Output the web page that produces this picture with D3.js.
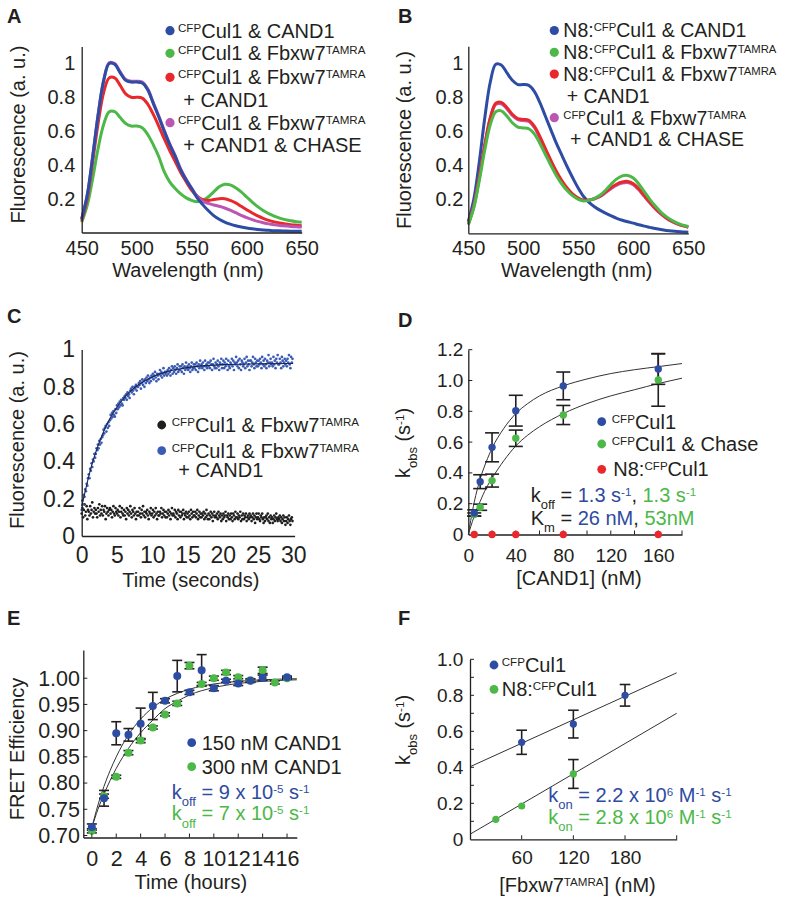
<!DOCTYPE html>
<html><head><meta charset="utf-8">
<script src="https://cdn.jsdelivr.net/npm/d3@7"></script>
<style>
body{margin:0;background:#fff}
svg{display:block}
text{font-family:"Liberation Sans",Arial,Helvetica,sans-serif;fill:#231f20;white-space:pre}
</style></head>
<body><svg id="fig" width="800" height="904"></svg>
<script>
// ---------------- DATA ----------------
const wavelength = [450,455,460,465,470,475,480,485,490,495,500,505,510,515,520,525,530,535,540,545,550,555,560,565,570,575,580,585,590,595,600,605,610,615,620,625,630,635,640,645,650];
// Panel A spectra
const aBlue  = [0.08,0.22,0.45,0.70,0.90,1.0,0.995,0.945,0.90,0.89,0.89,0.885,0.845,0.765,0.685,0.60,0.52,0.45,0.37,0.31,0.26,0.205,0.165,0.13,0.10,0.078,0.062,0.05,0.04,0.033,0.027,0.022,0.018,0.015,0.013,0.011,0.01,0.009,0.008,0.008,0.007];
const aGreen = [0.06,0.16,0.32,0.50,0.64,0.715,0.715,0.68,0.645,0.63,0.63,0.62,0.58,0.52,0.45,0.36,0.30,0.26,0.228,0.205,0.19,0.182,0.19,0.21,0.24,0.27,0.285,0.282,0.265,0.24,0.21,0.18,0.153,0.13,0.112,0.097,0.085,0.076,0.069,0.064,0.06];
const aRed   = [0.07,0.2,0.42,0.65,0.83,0.915,0.915,0.87,0.82,0.80,0.80,0.795,0.76,0.70,0.63,0.555,0.485,0.42,0.355,0.30,0.25,0.215,0.195,0.19,0.195,0.2,0.2,0.19,0.175,0.155,0.135,0.115,0.098,0.084,0.072,0.063,0.056,0.05,0.046,0.043,0.04];
const aPink  = [0.08,0.22,0.45,0.70,0.90,1.005,1.0,0.95,0.905,0.895,0.895,0.89,0.85,0.77,0.69,0.605,0.525,0.455,0.375,0.315,0.262,0.215,0.185,0.172,0.163,0.155,0.145,0.132,0.117,0.102,0.088,0.076,0.066,0.058,0.051,0.046,0.042,0.039,0.036,0.034,0.032];
// Panel B spectra
const bBlue  = [0.07,0.2,0.42,0.68,0.89,0.995,0.99,0.945,0.90,0.875,0.875,0.87,0.835,0.77,0.69,0.61,0.53,0.46,0.39,0.325,0.265,0.215,0.18,0.155,0.135,0.118,0.102,0.088,0.077,0.068,0.06,0.05,0.042,0.035,0.028,0.022,0.017,0.013,0.01,0.008,0.006];
const bGreen = [0.05,0.15,0.31,0.49,0.64,0.715,0.72,0.69,0.65,0.625,0.62,0.615,0.585,0.53,0.465,0.40,0.34,0.29,0.25,0.22,0.2,0.19,0.195,0.205,0.225,0.255,0.29,0.32,0.338,0.34,0.325,0.29,0.245,0.2,0.16,0.125,0.098,0.077,0.06,0.048,0.04];
const bRed   = [0.055,0.16,0.33,0.52,0.68,0.765,0.77,0.74,0.70,0.675,0.67,0.665,0.63,0.57,0.50,0.43,0.365,0.31,0.265,0.23,0.207,0.194,0.196,0.205,0.22,0.245,0.27,0.29,0.302,0.305,0.292,0.262,0.222,0.183,0.147,0.116,0.091,0.071,0.056,0.045,0.037];
const bPink  = [0.055,0.16,0.33,0.52,0.675,0.758,0.762,0.733,0.693,0.668,0.663,0.658,0.623,0.563,0.494,0.425,0.36,0.306,0.262,0.228,0.205,0.193,0.195,0.203,0.217,0.24,0.264,0.284,0.295,0.298,0.285,0.256,0.217,0.179,0.144,0.114,0.089,0.07,0.055,0.044,0.036];
const spectraTicksX = [450,500,550,600,650];
const spectraTicksY = [0.2,0.4,0.6,0.8,1];
const spectraTickLabelsY = ["0.2","0.4","0.6","0.8","1"];

// Panel C: traces sampled every 0.1 s (values in hundredths)
const cSampleStep = 0.1;
const cBlueTrace = [
14,19,17,22,21,25,24,28,27,31, 33,31,36,35,39,37,41,40,44,42, 44,47,46,49,47,51,49,52,50,53,
54,57,55,58,59,56,60,58,61,59, 62,65,63,66,64,67,65,64,68,66, 70,68,71,69,72,70,73,71,70,74,
73,75,74,76,73,77,75,76,74,78, 79,77,80,78,76,80,79,81,78,80, 80,82,81,83,79,82,84,81,83,80,
84,82,85,83,86,84,82,85,83,86, 85,87,84,86,88,85,83,87,86,84, 87,89,86,88,85,87,90,86,88,87,
88,86,89,87,90,88,86,89,91,87, 90,88,91,89,87,90,92,88,89,91, 89,91,88,92,90,87,91,89,93,90,
91,89,92,90,88,91,93,89,90,92, 90,92,89,93,91,88,92,90,94,91, 92,90,93,91,89,94,91,92,90,93,
91,93,90,94,92,89,92,95,91,90, 93,90,92,94,91,89,93,92,95,90, 92,94,90,93,91,95,92,89,94,91,
90,93,92,95,91,94,89,93,92,96, 93,91,94,90,95,92,89,94,93,91, 92,95,90,93,96,91,94,92,89,94,
94,91,93,96,92,90,95,93,91,94, 91,94,92,95,93,90,96,92,94,91, 95,92,90,94,93,97,91,93,95,92,
93,91,96,92,94,90,95,93,97,92, 92,95,93,90,96,94,91,93,95,92, 94,91,95,93,97,92,90,96,93,95];
const cBlackTrace = [
12,15,10,14,17,11,13,16,9,14, 13,11,16,12,14,18,10,13,15,12, 14,12,10,15,13,17,11,14,12,16,
11,14,13,16,9,12,15,13,11,14, 15,12,14,10,13,16,12,11,15,13, 12,14,11,13,16,10,13,15,12,11,
14,11,13,9,15,12,14,11,13,16, 12,10,14,13,11,15,12,9,13,11, 13,11,15,12,10,14,12,16,11,13,
10,13,12,14,11,9,13,12,15,11, 12,14,10,13,11,15,12,9,13,11, 11,13,12,15,10,12,14,11,13,10,
13,10,12,14,11,13,9,12,15,11, 12,11,14,10,13,12,9,14,11,13, 10,13,11,12,14,9,12,11,13,10,
12,10,13,11,9,14,12,10,13,11, 11,13,10,12,14,9,11,13,10,12, 10,12,11,13,9,12,10,14,11,9,
12,9,11,13,10,12,8,11,13,10, 11,10,12,9,13,11,10,12,8,11, 9,12,10,11,13,8,11,10,12,9,
11,9,12,10,8,12,11,9,13,10, 10,12,9,11,10,13,8,11,9,12, 9,11,10,12,8,10,11,9,12,10,
11,8,10,12,9,11,7,10,12,9, 10,12,9,8,11,10,12,9,7,10, 8,10,11,9,12,8,10,7,11,9,
10,7,9,11,8,10,12,9,8,10, 9,11,8,10,7,9,11,8,10,6, 8,10,7,9,11,8,6,9,10,8];
const cFitTime = [0,0.5,1,1.5,2,3,4,5,6,7,8,10,12,14,16,18,20,25,30];
const cFitValue = [0.16,0.24,0.32,0.39,0.45,0.55,0.63,0.69,0.74,0.78,0.81,0.853,0.88,0.897,0.908,0.915,0.919,0.923,0.925];
const cTicksX = [0,5,10,15,20,25,30];
const cTicksY = [0,0.2,0.4,0.6,0.8,1];
const cTickLabelsY = ["0","0.2","0.4","0.6","0.8","1"];

// Panel D
const dConc = [5,10,20,40,80,160];
const dBlue = [0.14,0.343,0.566,0.804,0.965,1.075];
const dBlueErr = [0.02,0.045,0.094,0.1,0.09,0.1];
const dGreen = [0.13,0.177,0.35,0.625,0.776,1.003];
const dGreenErr = [0.01,0.02,0.042,0.053,0.062,0.17];
const dRedConc = [5,20,40,80,160];
const dRed = [0,0,0,0,0];
const dFitConc = [0,2,5,10,15,20,30,40,50,60,80,100,120,140,160,180];
const dFitBlue = [0,0.09,0.21,0.36,0.47,0.56,0.69,0.785,0.85,0.9,0.965,1.01,1.045,1.07,1.09,1.11];
const dFitGreen = [0,0.05,0.12,0.215,0.3,0.365,0.48,0.575,0.645,0.7,0.785,0.85,0.9,0.94,0.98,1.015];
const dTicksX = [0,40,80,120,160];
const dMarksX = [20,40,60,80,100,120,140,160,180];
const dTicksY = [0,0.2,0.4,0.6,0.8,1.0,1.2];
const dTickLabelsY = ["0","0.2","0.4","0.6","0.8","1.0","1.2"];

// Panel E
const eBlueHours = [0,1,2,3,4,5,6,7,8,9,10,11,12,13,14,16];
const eBlue = [0.716,0.771,0.895,0.892,0.913,0.947,0.957,1.004,0.973,1.015,0.981,0.995,0.99,0.995,1.001,1.002];
const eBlueErr = [0.006,0.015,0.022,0.012,0.03,0.026,0.004,0.03,0.004,0.03,0.005,0.003,0.004,0.003,0.005,0.002];
const eGreenHours = [0,1,2,3,4,5,6,7,8,9,10,11,12,13,14,15,16];
const eGreen = [0.709,0.775,0.812,0.858,0.881,0.906,0.931,0.952,1.024,0.989,1.0,1.011,1.002,0.996,1.015,0.992,1.0];
const eGreenErr = [0.004,0.004,0.003,0.004,0.004,0.003,0.003,0.004,0.006,0.003,0.004,0.004,0.003,0.003,0.006,0.003,0.002];
const eFitHours = [0,0.5,1,1.5,2,3,4,5,6,7,8,10,12,14,16.8];
const eFitBlue = [0.715,0.758,0.794,0.824,0.85,0.892,0.922,0.944,0.96,0.971,0.979,0.989,0.994,0.997,0.999];
const eFitGreen = [0.715,0.75,0.779,0.805,0.828,0.866,0.896,0.92,0.942,0.956,0.968,0.982,0.99,0.994,0.997];
const eTicksX = [0,2,4,6,8,10,12,14,16];
const eTicksY = [0.70,0.75,0.80,0.85,0.90,0.95,1.00];
const eTickLabelsY = ["0.70","0.75","0.80","0.85","0.90","0.95","1.00"];

// Panel F
const fBlueConc = [60,120,180];
const fBlue = [0.539,0.64,0.80];
const fBlueErr = [0.067,0.077,0.06];
const fGreenConc = [30,60,120];
const fGreen = [0.111,0.185,0.363];
const fGreenErr = [0.005,0.005,0.08];
const fFitConc = [0,240];
const fFitBlue = [0.403,0.925];
const fFitGreen = [0.028,0.70];
const fTicksX = [60,120,180];
const fMarksX = [60,120,180,240];
const fTicksY = [0,0.2,0.4,0.6,0.8,1.0];
const fMarksY = [0.1,0.2,0.3,0.4,0.5,0.6,0.7,0.8,0.9,1.0];
const fTickLabelsY = ["0","0.2","0.4","0.6","0.8","1.0"];

// ---------------- STYLE ----------------
const INK = "#231f20";
const BLUE = "#2d4ca3", GREEN = "#4cb848", RED = "#e8282b", PINK = "#bb57b3";
const BLUE_TXT = "#2e4ba0", GREEN_TXT = "#4cb848";
const SCAT_BLUE = "#3a5cb6";

const svg = d3.select("#fig");
svg.append("rect").attr("width",800).attr("height",904).attr("fill","#fff");

function rich(g, x, y, parts, size, opts={}) {
  const t = g.append("text").attr("x", x).attr("y", y).style("font-size", size + "px");
  if (opts.anchor) t.attr("text-anchor", opts.anchor);
  if (opts.transform) t.attr("transform", opts.transform);
  let shift = 0;
  parts.forEach(p => {
    const [txt, mode, color] = p;
    let target = 0, fs = size;
    if (mode === "sup") { target = -0.3 * size; fs = size * 0.58; }
    else if (mode === "sub") { target = 0.36 * size; fs = size * 0.65; }
    const ts = t.append("tspan").attr("dy", (target - shift).toFixed(2)).style("font-size", fs + "px").text(txt);
    if (color) ts.style("fill", color);
    shift = target;
  });
  return t;
}

function axes(x, y, o) {
  const g = svg.append("g");
  const fs = o.fs || 20;
  const ax = d3.axisBottom(x).tickValues(o.xTicks).tickFormat((d,i) => o.xLabels ? o.xLabels[i] : d)
      .tickSize(0).tickPadding(o.xPad);
  const ay = d3.axisLeft(y).tickValues(o.yTicks).tickFormat((d,i) => o.yLabels[i])
      .tickSize(0).tickPadding(o.yPad);
  const gx = g.append("g").attr("transform", `translate(0,${y.range()[0]})`).call(ax);
  const gy = g.append("g").attr("transform", `translate(${x.range()[0]},0)`).call(ay);
  [gx, gy].forEach(s => {
    s.selectAll("path.domain").attr("stroke", INK).attr("stroke-width", 1.3);
    s.selectAll("text").attr("font-family", null).attr("font-size", null)
      .style("font-size", fs + "px").style("fill", INK);
    s.attr("font-family", null).attr("font-size", null);
  });
  const x0 = x.range()[0], y0 = y.range()[0];
  (o.xMarks || []).forEach(v => g.append("line").attr("x1", x(v)).attr("x2", x(v))
      .attr("y1", y0).attr("y2", y0 - 4).attr("stroke", INK).attr("stroke-width", 1));
  (o.yMarks || []).forEach(v => g.append("line").attr("x1", x0).attr("x2", x0 + 4)
      .attr("y1", y(v)).attr("y2", y(v)).attr("stroke", INK).attr("stroke-width", 1));
  return g;
}

function panelLetter(ch, x, y) {
  svg.append("text").attr("x", x).attr("y", y).style("font-size", "20px")
    .style("font-weight", "bold").text(ch);
}
function dot(g, x, y, color, r) {
  g.append("circle").attr("cx", x).attr("cy", y).attr("r", r).attr("fill", color);
}
function errBars(g, x, y, xs, ys, es, cap) {
  xs.forEach((xv, i) => {
    const yt = y(ys[i] + es[i]), yb = y(ys[i] - es[i]), px = x(xv);
    g.append("line").attr("x1", px).attr("x2", px).attr("y1", yt).attr("y2", yb)
      .attr("stroke", INK).attr("stroke-width", 1.6);
    [yt, yb].forEach(yy => g.append("line").attr("x1", px - cap).attr("x2", px + cap)
      .attr("y1", yy).attr("y2", yy).attr("stroke", INK).attr("stroke-width", 1.6));
  });
}

const smooth = d3.curveCatmullRom.alpha(0.5);

// ---------------- PANEL A ----------------
{
  const x = d3.scaleLinear().domain([450,650]).range([81.7,301.7]);
  const y = d3.scaleLinear().domain([0,1.1]).range([232.5,46.6]);
  const g = svg.append("g");
  const ln = d3.line().x((d,i) => x(wavelength[i])).y(d => y(d)).curve(smooth);
  [[aGreen,GREEN],[aRed,RED],[aPink,PINK],[aBlue,BLUE]].forEach(([s,c]) =>
    g.append("path").attr("d", ln(s)).attr("fill","none").attr("stroke",c).attr("stroke-width",3));
  axes(x, y, {xTicks: spectraTicksX, yTicks: spectraTicksY, yLabels: spectraTickLabelsY, xPad: 8.3, yPad: 6.4, fs: 20});
  rich(svg, 188, 277, [["Wavelength (nm)"]], 20, {anchor: "middle"});
  rich(svg, 0, 0, [["Fluorescence (a. u.)"]], 20, {anchor: "middle", transform: "translate(24.5,134.5) rotate(-90)"});
  panelLetter("A", 7, 23);
  const L = svg.append("g");
  dot(L, 170, 30.7, BLUE, 4.6); rich(L, 178, 37.7, [["CFP","sup"],["Cul1 & CAND1"]], 20);
  dot(L, 170, 53.3, GREEN, 4.6); rich(L, 178, 60.3, [["CFP","sup"],["Cul1 & Fbxw7"],["TAMRA","sup"]], 20);
  dot(L, 170, 77.3, RED, 4.6); rich(L, 178, 84.3, [["CFP","sup"],["Cul1 & Fbxw7"],["TAMRA","sup"]], 20);
  rich(L, 183.3, 107, [["+ CAND1"]], 20);
  dot(L, 170, 122.7, PINK, 4.6); rich(L, 178, 129.7, [["CFP","sup"],["Cul1 & Fbxw7"],["TAMRA","sup"]], 20);
  rich(L, 183.3, 152, [["+ CAND1 & CHASE"]], 20);
}

// ---------------- PANEL B ----------------
{
  const x = d3.scaleLinear().domain([450,650]).range([468.3,688.3]);
  const y = d3.scaleLinear().domain([0,1.1]).range([233.3,46.3]);
  const g = svg.append("g");
  const ln = d3.line().x((d,i) => x(wavelength[i])).y(d => y(d)).curve(smooth);
  [[bBlue,BLUE],[bPink,PINK],[bRed,RED],[bGreen,GREEN]].forEach(([s,c]) =>
    g.append("path").attr("d", ln(s)).attr("fill","none").attr("stroke",c).attr("stroke-width",3));
  axes(x, y, {xTicks: spectraTicksX, yTicks: spectraTicksY, yLabels: spectraTickLabelsY, xPad: 8, yPad: 5, fs: 20});
  rich(svg, 576.7, 277, [["Wavelength (nm)"]], 20, {anchor: "middle"});
  rich(svg, 0, 0, [["Fluorescence (a. u.)"]], 20, {anchor: "middle", transform: "translate(410.5,140) rotate(-90)"});
  panelLetter("B", 398, 23);
  const L = svg.append("g");
  const bfs = 19.5;
  dot(L, 554.3, 30.5, BLUE, 4.6); rich(L, 563.3, 37.3, [["N8:"],["CFP","sup"],["Cul1 & CAND1"]], bfs);
  dot(L, 554.3, 52.3, GREEN, 4.6); rich(L, 563.3, 59.1, [["N8:"],["CFP","sup"],["Cul1 & Fbxw7"],["TAMRA","sup"]], bfs);
  dot(L, 554.3, 74.1, RED, 4.6); rich(L, 563.3, 80.9, [["N8:"],["CFP","sup"],["Cul1 & Fbxw7"],["TAMRA","sup"]], bfs);
  rich(L, 566.7, 102.7, [["+ CAND1"]], bfs);
  dot(L, 554.3, 117.7, PINK, 4.6); rich(L, 563.3, 124.5, [["CFP","sup"],["Cul1 & Fbxw7"],["TAMRA","sup"]], bfs);
  rich(L, 570, 146.3, [["+ CAND1 & CHASE"]], bfs);
}

// ---------------- PANEL C ----------------
{
  const x = d3.scaleLinear().domain([0,30.2]).range([81.7,294.6]);
  const y = d3.scaleLinear().domain([0,1.0]).range([536,349.5]);
  const g = svg.append("g");
  g.selectAll(".bk").data(cBlackTrace).enter().append("circle")
    .attr("cx", (d,i) => x(i * cSampleStep)).attr("cy", d => y(d / 100)).attr("r", 1.35).attr("fill", "#1e1e1e");
  g.selectAll(".bl").data(cBlueTrace).enter().append("circle")
    .attr("cx", (d,i) => x(i * cSampleStep)).attr("cy", d => y(d / 100)).attr("r", 1.35).attr("fill", SCAT_BLUE);
  const ln = d3.line().x((d,i) => x(cFitTime[i])).y(d => y(d)).curve(d3.curveMonotoneX);
  g.append("path").attr("d", ln(cFitValue)).attr("fill","none").attr("stroke","#1c2550").attr("stroke-width",1.1);
  axes(x, y, {xTicks: cTicksX, yTicks: cTicksY, yLabels: cTickLabelsY, xPad: 11, yPad: 6.7, fs: 23});
  rich(svg, 190.8, 587, [["Time (seconds)"]], 20, {anchor: "middle"});
  rich(svg, 0, 0, [["Fluorescence (a. u.)"]], 20, {anchor: "middle", transform: "translate(24,440) rotate(-90)"});
  panelLetter("C", 7, 323);
  const L = svg.append("g");
  dot(L, 161.7, 425, "#1e1e1e", 4.4); rich(L, 171.7, 432, [["CFP","sup"],["Cul1 & Fbxw7"],["TAMRA","sup"]], 20);
  dot(L, 161.7, 450.7, SCAT_BLUE, 4.4); rich(L, 171.7, 457.7, [["CFP","sup"],["Cul1 & Fbxw7"],["TAMRA","sup"]], 20);
  rich(L, 178.3, 477, [["+ CAND1"]], 20);
}

// ---------------- PANEL D ----------------
{
  const x = d3.scaleLinear().domain([0,180]).range([468.3,682]);
  const y = d3.scaleLinear().domain([0,1.2]).range([534.5,349.7]);
  const g = svg.append("g");
  const ln = d3.line().x((d,i) => x(dFitConc[i])).y(d => y(d)).curve(d3.curveMonotoneX);
  g.append("path").attr("d", ln(dFitBlue)).attr("fill","none").attr("stroke","#333").attr("stroke-width",1);
  g.append("path").attr("d", ln(dFitGreen)).attr("fill","none").attr("stroke","#333").attr("stroke-width",1);
  errBars(g, x, y, dConc, dBlue, dBlueErr, 7);
  errBars(g, x, y, dConc, dGreen, dGreenErr, 7);
  dConc.forEach((c,i) => dot(g, x(c), y(dGreen[i]), GREEN, 3.7));
  dConc.forEach((c,i) => dot(g, x(c), y(dBlue[i]), BLUE, 3.7));
  axes(x, y, {xTicks: dTicksX, yTicks: dTicksY, yLabels: dTickLabelsY, xPad: 14, yPad: 5, fs: 19, xMarks: dMarksX, yMarks: dTicksY.slice(1)});
  dRedConc.forEach((c,i) => dot(g, x(c), y(dRed[i]), RED, 3.7));
  g.raise();
  rich(svg, 579, 585, [["[CAND1] (nM)"]], 20, {anchor: "middle"});
  rich(svg, 0, 0, [["k"],["obs","sub"],[" (s"],["-1","sup"],[")"]], 20, {anchor: "middle", transform: "translate(410,443) rotate(-90)"});
  panelLetter("D", 398, 327);
  const L = svg.append("g");
  dot(L, 601.7, 421.7, BLUE, 4.4); rich(L, 611.7, 428.7, [["CFP","sup"],["Cul1"]], 20);
  dot(L, 601.7, 444, GREEN, 4.4); rich(L, 611.7, 451, [["CFP","sup"],["Cul1 & Chase"]], 20);
  dot(L, 601.7, 469.3, RED, 4.4); rich(L, 613.3, 476.3, [["N8:"],["CFP","sup"],["Cul1"]], 20);
  rich(L, 530.7, 502, [["k"],["off","sub"],[" = "],["1.3 s",null,BLUE_TXT],["-1","sup",BLUE_TXT],[", "],["1.3 s",null,GREEN_TXT],["-1","sup",GREEN_TXT]], 20);
  rich(L, 530.7, 525, [["K"],["m","sub"],[" = "],["26 nM",null,BLUE_TXT],[", "],["53nM",null,GREEN_TXT]], 20);
}

// ---------------- PANEL E ----------------
{
  const x = d3.scaleLinear().domain([-0.7,16.8]).range([83.3,296.8]);
  const y = d3.scaleLinear().domain([0.6962,1.0538]).range([837.5,650]);
  const g = svg.append("g");
  const ln = d3.line().x((d,i) => x(eFitHours[i])).y(d => y(d)).curve(d3.curveMonotoneX);
  g.append("path").attr("d", ln(eFitBlue)).attr("fill","none").attr("stroke","#333").attr("stroke-width",1);
  g.append("path").attr("d", ln(eFitGreen)).attr("fill","none").attr("stroke","#333").attr("stroke-width",1);
  errBars(g, x, y, eGreenHours, eGreen, eGreenErr, 5);
  errBars(g, x, y, eBlueHours, eBlue, eBlueErr, 5);
  eGreenHours.forEach((h,i) => dot(g, x(h), y(eGreen[i]), GREEN, 4));
  eBlueHours.forEach((h,i) => dot(g, x(h), y(eBlue[i]), BLUE, 4));
  axes(x, y, {xTicks: eTicksX, yTicks: eTicksY, yLabels: eTickLabelsY, xPad: 13.5, yPad: 3.3, fs: 21.5, xMarks: eTicksX, yMarks: eTicksY});
  rich(svg, 190.8, 889, [["Time (hours)"]], 20, {anchor: "middle"});
  rich(svg, 0, 0, [["FRET Efficiency"]], 20, {anchor: "middle", transform: "translate(24,749) rotate(-90)"});
  panelLetter("E", 7, 625);
  const L = svg.append("g");
  dot(L, 191.7, 742.7, BLUE, 4.4); rich(L, 201.7, 749.7, [["150 nM CAND1"]], 20);
  dot(L, 191.7, 766.7, GREEN, 4.4); rich(L, 201.7, 773.7, [["300 nM CAND1"]], 20);
  rich(L, 171.7, 798.7, [["k",null,BLUE_TXT],["off","sub",BLUE_TXT],[" = 9 x 10",null,BLUE_TXT],["-5","sup",BLUE_TXT],[" s",null,BLUE_TXT],["-1","sup",BLUE_TXT]], 20);
  rich(L, 171.7, 820.3, [["k",null,GREEN_TXT],["off","sub",GREEN_TXT],[" = 7 x 10",null,GREEN_TXT],["-5","sup",GREEN_TXT],[" s",null,GREEN_TXT],["-1","sup",GREEN_TXT]], 20);
}

// ---------------- PANEL F ----------------
{
  const x = d3.scaleLinear().domain([0,240]).range([470,676.7]);
  const y = d3.scaleLinear().domain([0,1.0]).range([839.3,659.3]);
  const g = svg.append("g");
  const ln = d3.line().x((d,i) => x(fFitConc[i])).y(d => y(d));
  g.append("path").attr("d", ln(fFitBlue)).attr("fill","none").attr("stroke","#333").attr("stroke-width",1);
  g.append("path").attr("d", ln(fFitGreen)).attr("fill","none").attr("stroke","#333").attr("stroke-width",1);
  errBars(g, x, y, fBlueConc, fBlue, fBlueErr, 5.3);
  errBars(g, x, y, fGreenConc.slice(2), fGreen.slice(2), fGreenErr.slice(2), 5.3);
  fGreenConc.forEach((c,i) => dot(g, x(c), y(fGreen[i]), GREEN, 3.6));
  fBlueConc.forEach((c,i) => dot(g, x(c), y(fBlue[i]), BLUE, 3.6));
  axes(x, y, {xTicks: fTicksX, yTicks: fTicksY, yLabels: fTickLabelsY, xPad: 11, yPad: 6.7, fs: 19, xMarks: fMarksX, yMarks: fMarksY});
  rich(svg, 577.5, 892, [["[Fbxw7"],["TAMRA","sup"],["] (nM)"]], 20, {anchor: "middle"});
  rich(svg, 0, 0, [["k"],["obs","sub"],[" (s"],["-1","sup"],[")"]], 20, {anchor: "middle", transform: "translate(410,730) rotate(-90)"});
  panelLetter("F", 398, 625);
  const L = svg.append("g");
  dot(L, 494, 665, BLUE, 4.4); rich(L, 501.7, 672, [["CFP","sup"],["Cul1"]], 20);
  dot(L, 494, 689.3, GREEN, 4.4); rich(L, 501.7, 696.3, [["N8:"],["CFP","sup"],["Cul1"]], 20);
  rich(L, 548.3, 802, [["k",null,BLUE_TXT],["on","sub",BLUE_TXT],[" = 2.2 x 10",null,BLUE_TXT],["6","sup",BLUE_TXT],[" M",null,BLUE_TXT],["-1","sup",BLUE_TXT],[" s",null,BLUE_TXT],["-1","sup",BLUE_TXT]], 20);
  rich(L, 548.3, 824, [["k",null,GREEN_TXT],["on","sub",GREEN_TXT],[" = 2.8 x 10",null,GREEN_TXT],["6","sup",GREEN_TXT],[" M",null,GREEN_TXT],["-1","sup",GREEN_TXT],[" s",null,GREEN_TXT],["-1","sup",GREEN_TXT]], 20);
}
</script></body></html>
